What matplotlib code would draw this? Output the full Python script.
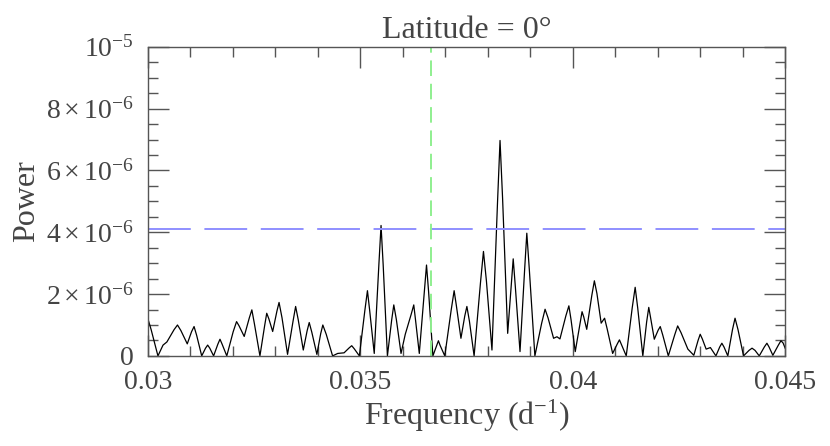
import matplotlib
matplotlib.use("Agg")
import matplotlib.pyplot as plt
from matplotlib.ticker import MultipleLocator, FixedLocator, FixedFormatter

# periodogram (frequency in d^-1, power in units of 1e-6)
freq = [0.03000, 0.03008, 0.03024, 0.03036, 0.03045, 0.03062, 0.03070, 0.03078,
        0.03093, 0.03103, 0.03109, 0.03115, 0.03127, 0.03136, 0.03141, 0.03146,
        0.03155, 0.03165, 0.03170, 0.03175, 0.03186, 0.03201, 0.03209, 0.03215,
        0.03227, 0.03239, 0.03245, 0.03251, 0.03264, 0.03275, 0.03280, 0.03285,
        0.03294, 0.03304, 0.03309, 0.03316, 0.03329, 0.03342, 0.03348, 0.03354,
        0.03366, 0.03375, 0.03380, 0.03386, 0.03398, 0.03407, 0.03412, 0.03420,
        0.03435, 0.03447, 0.03462, 0.03474, 0.03480, 0.03486, 0.03498, 0.03511,
        0.03517, 0.03522, 0.03533, 0.03544, 0.03549, 0.03554, 0.03564, 0.03574,
        0.03579, 0.03585, 0.03596, 0.03606, 0.03620, 0.03626, 0.03630, 0.03639,
        0.03651, 0.03656, 0.03661, 0.03671, 0.03680, 0.03684, 0.03688, 0.03699,
        0.03714, 0.03721, 0.03726, 0.03737, 0.03746, 0.03751, 0.03757, 0.03768,
        0.03783, 0.03790, 0.03797, 0.03810, 0.03823, 0.03829, 0.03835, 0.03847,
        0.03856, 0.03860, 0.03865, 0.03876, 0.03887, 0.03892, 0.03898, 0.03911,
        0.03927, 0.03935, 0.03942, 0.03955, 0.03963, 0.03970, 0.03984, 0.03991,
        0.03996, 0.04006, 0.04017, 0.04022, 0.04026, 0.04033, 0.04045, 0.04051,
        0.04057, 0.04067, 0.04075, 0.04081, 0.04094, 0.04105, 0.04110, 0.04115,
        0.04126, 0.04140, 0.04147, 0.04153, 0.04165, 0.04174, 0.04179, 0.04183,
        0.04192, 0.04201, 0.04206, 0.04212, 0.04225, 0.04240, 0.04247, 0.04255,
        0.04271, 0.04285, 0.04295, 0.04300, 0.04305, 0.04314, 0.04324, 0.04337,
        0.04346, 0.04351, 0.04356, 0.04365, 0.04376, 0.04382, 0.04389, 0.04402,
        0.04415, 0.04422, 0.04429, 0.04439, 0.04451, 0.04457, 0.04462, 0.04471,
        0.04484, 0.04490, 0.04495, 0.04500]
power = [1.22, 0.85, 0.00, 0.35, 0.45, 0.85, 1.00, 0.82,
         0.39, 0.78, 0.95, 0.67, 0.00, 0.25, 0.35, 0.25,
         0.00, 0.38, 0.54, 0.38, 0.00, 0.78, 1.11, 0.97,
         0.63, 1.23, 1.49, 1.04, 0.00, 0.97, 1.38, 1.20,
         0.79, 1.45, 1.73, 1.23, 0.05, 1.13, 1.60, 1.18,
         0.19, 0.81, 1.08, 0.77, 0.05, 0.72, 1.00, 0.70,
         0.00, 0.08, 0.10, 0.26, 0.33, 0.23, 0.00, 1.48,
         2.11, 1.50, 0.08, 2.98, 4.22, 2.95, 0.00, 1.16,
         1.65, 1.18, 0.08, 0.70, 1.35, 1.65, 1.18, 0.08,
         2.08, 2.94, 2.06, 0.00, 0.34, 0.49, 0.34, 0.00,
         1.48, 2.11, 1.65, 0.57, 1.29, 1.60, 1.12, 0.00,
         2.37, 3.38, 2.42, 0.19, 4.94, 6.97, 5.10, 0.73,
         2.42, 3.14, 2.24, 0.14, 2.82, 3.97, 2.78, 0.00,
         1.06, 1.51, 1.23, 0.57, 0.62, 0.55, 1.30, 1.62,
         1.18, 0.14, 1.04, 1.43, 1.26, 0.86, 1.96, 2.43,
         2.02, 1.06, 1.22, 0.88, 0.08, 0.39, 0.52, 0.36,
         0.00, 1.55, 2.22, 1.55, 0.00, 1.10, 1.57, 1.26,
         0.54, 0.83, 0.95, 0.67, 0.00, 0.68, 0.97, 0.75,
         0.22, 0.02, 0.50, 0.70, 0.55, 0.22, 0.27, 0.00,
         0.29, 0.41, 0.29, 0.00, 0.85, 1.22, 0.85, 0.00,
         0.18, 0.25, 0.18, 0.00, 0.29, 0.41, 0.29, 0.02,
         0.35, 0.49, 0.42, 0.25]

threshold = 4.11e-6
target_freq = 0.03666

yticks = [0, 2e-6, 4e-6, 6e-6, 8e-6, 1e-5]
ylabels = ['0', r'$2\times10^{-6}$', r'$4\times10^{-6}$', r'$6\times10^{-6}$',
           r'$8\times10^{-6}$', r'$10^{-5}$']
xticks = [0.03, 0.035, 0.04, 0.045]
xlabels = ['0.03', '0.035', '0.04', '0.045']

plt.rcParams['font.family'] = ['Liberation Serif', 'DejaVu Serif']
plt.rcParams['mathtext.fontset'] = 'custom'
plt.rcParams['mathtext.rm'] = 'Liberation Serif'
plt.rcParams['mathtext.it'] = 'Liberation Serif:italic'

txt = '#444444'
frame = '#555555'

fig = plt.figure(figsize=(8.3, 4.46), dpi=100)
ax = fig.add_axes([0.178, 0.202, 0.768, 0.693])

ax.plot(freq, [p * 1e-6 for p in power], color='black', lw=0.9)
ax.axhline(threshold, color='#8f8fff', lw=1.4, dashes=(22, 7))
ax.axvline(target_freq, color='#8fef8f', lw=1.4, dashes=(8, 4))

ax.set_xlim(0.03, 0.045)
ax.set_ylim(0, 1e-5)
ax.xaxis.set_major_locator(FixedLocator(xticks))
ax.xaxis.set_major_formatter(FixedFormatter(xlabels))
ax.xaxis.set_minor_locator(MultipleLocator(0.001))
ax.yaxis.set_major_locator(FixedLocator(yticks))
ax.yaxis.set_major_formatter(FixedFormatter(ylabels))
ax.yaxis.set_minor_locator(MultipleLocator(5e-7))

ax.tick_params(which='both', direction='in', top=True, right=True,
               color=frame, labelcolor=txt, labelsize=20, width=1)
ax.tick_params(which='major', length=15)
ax.tick_params(which='minor', length=7)
ax.tick_params(axis='x', which='major', pad=10)
ax.tick_params(axis='y', which='major', pad=10)
for s in ax.spines.values():
    s.set_color(frame)
    s.set_linewidth(1)

ax.set_title('Latitude = 0°', color=txt, fontsize=23, pad=6)
ax.set_xlabel(r'Frequency (d$^{-1}$)', color=txt, fontsize=23, labelpad=2)
ax.set_ylabel('Power', color=txt, fontsize=23, labelpad=4)

fig.savefig('out.png', dpi=100)
